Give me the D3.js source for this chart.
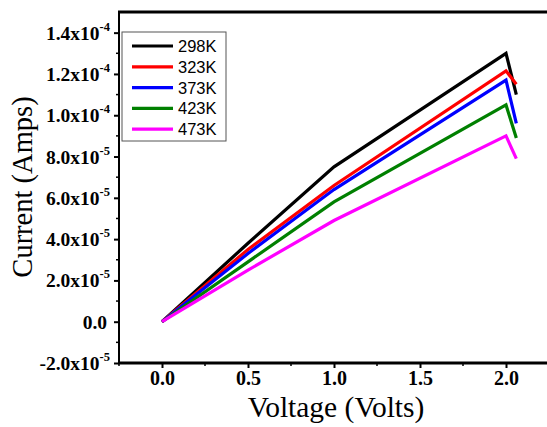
<!DOCTYPE html>
<html>
<head>
<meta charset="utf-8">
<script src="https://cdn.jsdelivr.net/npm/d3@7"></script>
<style>
  body { margin: 0; background: #fff; }
  svg { display: block; }
</style>
</head>
<body>
<svg id="chart" width="547" height="427"></svg>
<script>
    // data
    var voltage = [0, 0.5, 1.0, 2.0, 2.06];
    var temps = ["298K", "323K", "373K", "423K", "473K"];
    var colors = ["#000000", "#ff0000", "#0000ff", "#008000", "#ff00ff"];
    var current298 = [0, 3.8e-5, 7.5e-5, 1.30e-4, 1.10e-4];
    var current323 = [0, 3.5e-5, 6.6e-5, 1.215e-4, 1.15e-4];
    var current373 = [0, 3.3e-5, 6.4e-5, 1.17e-4, 9.6e-5];
    var current423 = [0, 2.9e-5, 5.8e-5, 1.05e-4, 8.9e-5];
    var current473 = [0, 2.5e-5, 4.9e-5, 9.0e-5, 7.9e-5];
    var xTicks = [0, 0.5, 1.0, 1.5, 2.0];
    var yTicks = [-2e-5, 0, 2e-5, 4e-5, 6e-5, 8e-5, 1.0e-4, 1.2e-4, 1.4e-4];
    var yLabels = ["-2.0x10|-5", "0.0", "2.0x10|-5", "4.0x10|-5", "6.0x10|-5",
                   "8.0x10|-5", "1.0x10|-4", "1.2x10|-4", "1.4x10|-4"];

    var series = [current298, current323, current373, current423, current473];

    var plotLeft = 119, plotRight = 549, plotTop = 12, plotBottom = 363;
    var serif = "'Liberation Serif', 'Times New Roman', serif";
    var svg = d3.select("#chart");

    var x = d3.scaleLinear().domain([-0.25, 2.25]).range([plotLeft, plotRight]);
    var y = d3.scaleLinear().domain([-2e-5, 1.5e-4]).range([plotBottom, plotTop]);

    var line = d3.line()
        .x(function(d) { return x(d[0]); })
        .y(function(d) { return y(d[1]); });

    svg.selectAll("path.series")
        .data(series)
        .enter()
        .append("path")
        .attr("class", "series")
        .attr("d", function(d) { return line(d3.zip(voltage, d)); })
        .attr("fill", "none")
        .attr("stroke", function(d, i) { return colors[i]; })
        .attr("stroke-width", 3.2)
        .attr("stroke-linejoin", "miter");

    // minor ticks
    var xMinor = [-0.25, 0.25, 0.75, 1.25, 1.75, 2.25];
    svg.selectAll("line.xminor")
        .data(xMinor)
        .enter()
        .append("line")
        .attr("x1", function(d) { return x(d); })
        .attr("x2", function(d) { return x(d); })
        .attr("y1", plotBottom)
        .attr("y2", plotBottom + 3)
        .attr("stroke", "#000")
        .attr("stroke-width", 1.5);

    var yMinor = [-1e-5, 1e-5, 3e-5, 5e-5, 7e-5, 9e-5, 1.1e-4, 1.3e-4];
    svg.selectAll("line.yminor")
        .data(yMinor)
        .enter()
        .append("line")
        .attr("x1", plotLeft - 3)
        .attr("x2", plotLeft)
        .attr("y1", function(d) { return y(d); })
        .attr("y2", function(d) { return y(d); })
        .attr("stroke", "#000")
        .attr("stroke-width", 1.5);

    // axes
    var xAxis = d3.axisBottom(x).tickValues(xTicks).tickSize(5)
        .tickFormat(d3.format(".1f"));
    var gx = svg.append("g")
        .attr("transform", "translate(0," + plotBottom + ")")
        .call(xAxis);
    gx.select(".domain").remove();
    gx.selectAll("line").attr("stroke-width", 2);
    gx.selectAll("text")
        .attr("y", 22)
        .attr("dy", null)
        .style("font-family", serif)
        .style("font-weight", "bold")
        .style("font-size", "20px")
        .attr("fill", "#000");

    var yAxis = d3.axisLeft(y).tickValues(yTicks).tickSize(5).tickFormat("");
    var gy = svg.append("g").attr("transform", "translate(" + plotLeft + ",0)").call(yAxis);
    gy.select(".domain").remove();
    gy.selectAll("line").attr("stroke-width", 2);

    var labels = svg.append("g")
        .style("font-family", serif)
        .style("font-weight", "bold")
        .attr("fill", "#000");
    yTicks.forEach(function(v, i) {
        var parts = yLabels[i].split("|");
        var t = labels.append("text")
            .attr("x", 110)
            .attr("y", y(v) + 7)
            .attr("text-anchor", "end")
            .style("font-size", "19.5px");
        if (parts.length > 1) {
            t.append("tspan").text(parts[0]);
            t.append("tspan").attr("dy", -9).style("font-size", "12.5px").text(parts[1]);
        } else {
            t.attr("x", 107).text(parts[0]);
        }
    });

    // frame
    svg.append("line").attr("x1", plotLeft).attr("x2", plotLeft)
        .attr("y1", plotTop - 1).attr("y2", plotBottom + 1)
        .attr("stroke", "#000").attr("stroke-width", 2);
    svg.append("line").attr("x1", plotLeft - 1).attr("x2", 547)
        .attr("y1", plotBottom).attr("y2", plotBottom)
        .attr("stroke", "#000").attr("stroke-width", 3);
    svg.append("line").attr("x1", plotLeft - 1).attr("x2", 547)
        .attr("y1", plotTop).attr("y2", plotTop)
        .attr("stroke", "#000").attr("stroke-width", 3);

    // axis titles
    svg.append("text")
        .attr("x", 336)
        .attr("y", 417)
        .attr("text-anchor", "middle")
        .style("font-family", serif)
        .style("font-size", "29.5px")
        .text("Voltage (Volts)");
    svg.append("text")
        .attr("transform", "translate(32,187) rotate(-90)")
        .attr("text-anchor", "middle")
        .style("font-family", serif)
        .style("font-size", "28.5px")
        .text("Current (Amps)");

    // legend
    var legend = svg.append("g").attr("transform", "translate(122,32)");
    legend.append("rect")
        .attr("width", 104).attr("height", 109)
        .attr("fill", "#fff").attr("stroke", "#555").attr("stroke-width", 1);
    var item = legend.selectAll("g.item")
        .data(temps)
        .enter()
        .append("g")
        .attr("transform", function(d, i) { return "translate(0," + (14 + i * 20.8) + ")"; });
    item.append("line")
        .attr("x1", 10).attr("x2", 51)
        .attr("stroke", function(d, i) { return colors[i]; })
        .attr("stroke-width", 3.2);
    item.append("text")
        .attr("x", 56).attr("y", 6)
        .style("font-family", "'Liberation Sans', Arial, sans-serif")
        .style("font-size", "16.5px")
        .text(function(d) { return d; });
</script>
</body>
</html>
